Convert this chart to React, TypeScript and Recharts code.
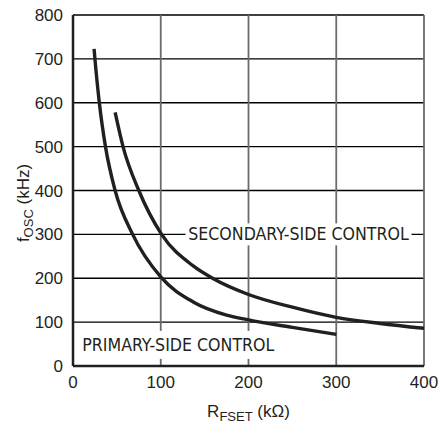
import { LineChart, Line, XAxis, YAxis, CartesianGrid, ReferenceDot } from 'recharts';

// curves (R in kOhm, f in kHz)
const primaryR = [24, 25, 30, 37, 48, 68, 100, 137, 175, 200, 250, 300];
const primaryF = [723, 700, 600, 500, 400, 300, 203, 146, 116, 105, 88, 72];
const secondaryR = [48, 57, 75, 101, 137, 159, 200, 250, 300, 350, 400];
const secondaryF = [578, 500, 400, 300, 228, 200, 163, 134, 111, 97, 86];

const xTicks = [0, 100, 200, 300, 400];
const yTicks = [0, 100, 200, 300, 400, 500, 600, 700, 800];

const INK = '#231f20';
const FONT = '"Liberation Sans", Arial, sans-serif';
const NARROW = '"Liberation Sans Narrow", "DejaVu Sans Condensed", sans-serif';

type Row = { r: number; primary?: number; secondary?: number };

const table: Row[] = (() => {
  const map = new Map<number, Row>();
  primaryR.forEach((r, i) => {
    const row = map.get(r) ?? { r };
    row.primary = primaryF[i];
    map.set(r, row);
  });
  secondaryR.forEach((r, i) => {
    const row = map.get(r) ?? { r };
    row.secondary = secondaryF[i];
    map.set(r, row);
  });
  return [...map.values()].sort((a, b) => a.r - b.r);
})();

function XTitle({ viewBox }: { viewBox?: { x: number; y: number; width: number; height: number } }) {
  if (!viewBox) return null;
  const cx = viewBox.x + viewBox.width / 2;
  return (
    <text x={cx} y={viewBox.y + 51} textAnchor="middle" fill={INK} fontFamily={FONT} fontSize={17}>
      R<tspan fontSize={13} dy={4}>FSET</tspan>
      <tspan dy={-4}> (kΩ)</tspan>
    </text>
  );
}

function YTitle({ viewBox }: { viewBox?: { x: number; y: number; width: number; height: number } }) {
  if (!viewBox) return null;
  const x = 29;
  const y = 203;
  return (
    <text x={x} y={y} transform={`rotate(-90 ${x} ${y})`} textAnchor="middle" fill={INK} fontFamily={FONT} fontSize={17}>
      f<tspan fontSize={13} dy={4}>OSC</tspan>
      <tspan dy={-4}> (kHz)</tspan>
    </text>
  );
}

function Tag({ cx, cy, text, w, h }: { cx?: number; cy?: number; text: string; w: number; h: number }) {
  if (cx == null || cy == null) return null;
  return (
    <g>
      <rect x={cx - w / 2} y={cy - h / 2} width={w} height={h} fill="#fff" />
      <text x={cx} y={cy} textAnchor="middle" dominantBaseline="central" fill={INK} fontFamily={NARROW} fontSize={17.6}>
        {text}
      </text>
    </g>
  );
}

export default function App() {
  return (
    <div style={{ position: 'absolute', left: 0, top: 0, background: '#fff' }}>
      <LineChart width={441} height={423} data={table} margin={{ top: 15, right: 17, left: 0, bottom: 0 }}>
        <CartesianGrid vertical={false} stroke="#000" strokeWidth={1.4} />
        <CartesianGrid horizontal={false} stroke="#6b6b6b" strokeWidth={1.8} />
        <XAxis
          dataKey="r"
          type="number"
          domain={[0, 400]}
          ticks={xTicks}
          height={57}
          tickSize={0}
          tickMargin={10}
          tickLine={false}
          axisLine={{ stroke: INK, strokeWidth: 2.5 }}
          tick={{ fill: INK, fontSize: 17, fontFamily: FONT }}
          label={<XTitle />}
        />
        <YAxis
          type="number"
          domain={[0, 800]}
          ticks={yTicks}
          width={73}
          tickSize={0}
          tickMargin={10}
          tickLine={false}
          axisLine={{ stroke: INK, strokeWidth: 2.5 }}
          tick={{ fill: INK, fontSize: 17, fontFamily: FONT }}
          label={<YTitle />}
        />
        <ReferenceDot x={257} y={300} r={0} shape={(p: any) => <Tag cx={p.cx} cy={p.cy} text="SECONDARY-SIDE CONTROL" w={226} h={22} />} />
        <ReferenceDot x={120} y={48} r={0} shape={(p: any) => <Tag cx={p.cx} cy={p.cy} text="PRIMARY-SIDE CONTROL" w={200} h={28} />} />
        <Line
          dataKey="primary"
          type="monotone"
          stroke={INK}
          strokeWidth={3.4}
          dot={false}
          connectNulls
          isAnimationActive={false}
        />
        <Line
          dataKey="secondary"
          type="monotone"
          stroke={INK}
          strokeWidth={3.4}
          dot={false}
          connectNulls
          isAnimationActive={false}
        />
      </LineChart>
    </div>
  );
}
